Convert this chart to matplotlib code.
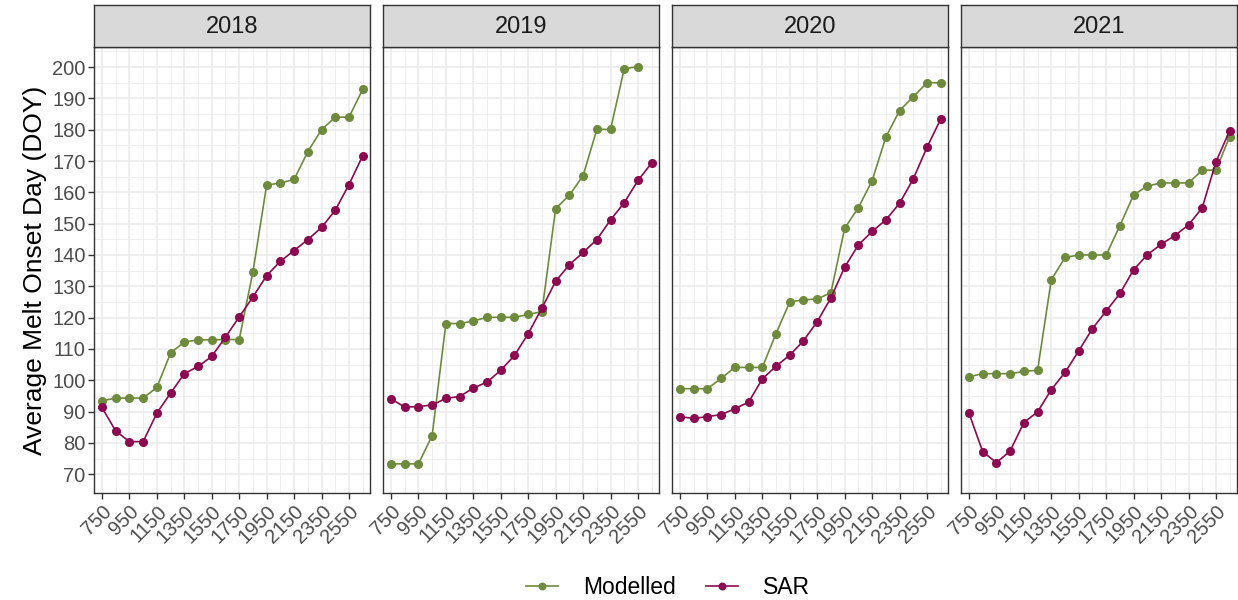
import matplotlib
matplotlib.use("Agg")
import matplotlib.pyplot as plt
import numpy as np

plt.rcParams['font.family'] = ['Liberation Sans', 'DejaVu Sans']

# elevation bins (m)
elevation = [750, 850, 950, 1050, 1150, 1250, 1350, 1450, 1550, 1650,
             1750, 1850, 1950, 2050, 2150, 2250, 2350, 2450, 2550, 2650]
years = ['2018', '2019', '2020', '2021']

modelled_2018 = [93.4, 94.3, 94.3, 94.3, 97.7, 108.7, 112.2, 112.9, 112.9, 113.0,
                 113.0, 134.6, 162.3, 163.0, 164.1, 173.0, 180.0, 184.0, 184.0, 192.9]
sar_2018 = [91.3, 83.8, 80.4, 80.4, 89.5, 95.9, 102.1, 104.4, 107.6, 113.8,
            120.2, 126.6, 133.4, 138.0, 141.4, 144.9, 148.8, 154.3, 162.5, 171.7]

# no modelled value at 2650 in 2019
modelled_2019 = [73.3, 73.3, 73.3, 82.3, 118.1, 118.1, 118.9, 120.1, 120.1, 120.1,
                 121.0, 121.9, 154.8, 159.1, 165.3, 180.1, 180.1, 199.5, 200.1, np.nan]
sar_2019 = [94.1, 91.4, 91.6, 92.1, 94.2, 94.8, 97.5, 99.4, 103.2, 107.9,
            114.9, 123.0, 131.6, 136.9, 140.8, 144.9, 151.2, 156.7, 163.8, 169.4]

modelled_2020 = [97.3, 97.3, 97.3, 100.6, 104.1, 104.1, 104.1, 114.9, 125.0, 125.7,
                 125.9, 128.0, 148.5, 155.1, 163.7, 177.6, 186.1, 190.5, 195.0, 195.0]
sar_2020 = [88.4, 87.8, 88.4, 89.0, 90.9, 93.0, 100.4, 104.5, 108.0, 112.6,
            118.7, 126.3, 136.1, 143.2, 147.5, 151.2, 156.5, 164.3, 174.4, 183.4]

modelled_2021 = [101.1, 102.1, 102.1, 102.1, 102.8, 103.2, 132.1, 139.2, 140.0, 140.0,
                 140.0, 149.4, 159.2, 162.0, 163.0, 163.0, 163.0, 167.1, 167.1, 177.8]
sar_2021 = [89.5, 77.2, 73.7, 77.4, 86.5, 89.9, 97.0, 102.5, 109.4, 116.5,
            122.1, 127.7, 135.3, 140.1, 143.4, 146.2, 149.6, 155.1, 169.8, 179.7]

modelled = [modelled_2018, modelled_2019, modelled_2020, modelled_2021]
sar = [sar_2018, sar_2019, sar_2020, sar_2021]

green = '#6E8B3D'
purple = '#8B0A50'
W, H = 1238, 600

fig = plt.figure(figsize=(W / 100, H / 100), dpi=100)


def px_axes(left, top, width, height):
    return fig.add_axes([left / W, 1 - (top + height) / H, width / W, height / H])


panel_left = [94, 383, 672, 961]
panel_w = 276
panel_top = 46.7
panel_h = 493.3 - 46.7

for i, year in enumerate(years):
    ax = px_axes(panel_left[i], panel_top, panel_w, panel_h)
    ax.set_xlim(692, 2703)
    ax.set_ylim(63.9, 206.5)
    ax.set_xticks(np.arange(750, 2551, 200))
    ax.set_xticks(np.arange(850, 2651, 200), minor=True)
    ax.set_yticks(np.arange(70, 201, 10))
    ax.set_yticks(np.arange(75, 206, 10), minor=True)
    ax.grid(which='major', color='#EBEBEB', lw=1.1)
    ax.grid(which='minor', color='#EBEBEB', lw=0.55)
    ax.set_axisbelow(True)
    for s in ax.spines.values():
        s.set_color('#333333')
        s.set_linewidth(1.0)
    ax.tick_params(which='minor', length=0)
    ax.tick_params(which='major', length=4, width=1.0, color='#333333',
                   labelsize=14.5, labelcolor='#4D4D4D', pad=2)
    ax.set_xticklabels([str(v) for v in range(750, 2551, 200)],
                       rotation=45, ha='right', va='top', rotation_mode='anchor')
    if i == 0:
        ax.set_ylabel('Average Melt Onset Day (DOY)', fontsize=19, labelpad=4)
    else:
        ax.tick_params(axis='y', left=False, labelleft=False)

    ax.plot(elevation, modelled[i], color=green, lw=1.2, marker='o', ms=5.5,
            label='Modelled')
    ax.plot(elevation, sar[i], color=purple, lw=1.2, marker='o', ms=5.5,
            label='SAR')

    # facet strip
    st = px_axes(panel_left[i], 5, panel_w, panel_top - 5)
    st.set_facecolor('#D9D9D9')
    st.set_xticks([])
    st.set_yticks([])
    for s in st.spines.values():
        s.set_color('#333333')
        s.set_linewidth(1.0)
    st.text(0.5, 0.48, year, ha='center', va='center', fontsize=17,
            color='#1A1A1A', transform=st.transAxes)

handles, labels = ax.get_legend_handles_labels()
fig.legend(handles, labels, loc='center', bbox_to_anchor=(668 / W, 1 - 588 / H),
           ncol=2, frameon=False, fontsize=16.5, handlelength=1.4,
           handletextpad=1.1, columnspacing=1.3, markerscale=0.85)

fig.savefig('out.png', dpi=100)
